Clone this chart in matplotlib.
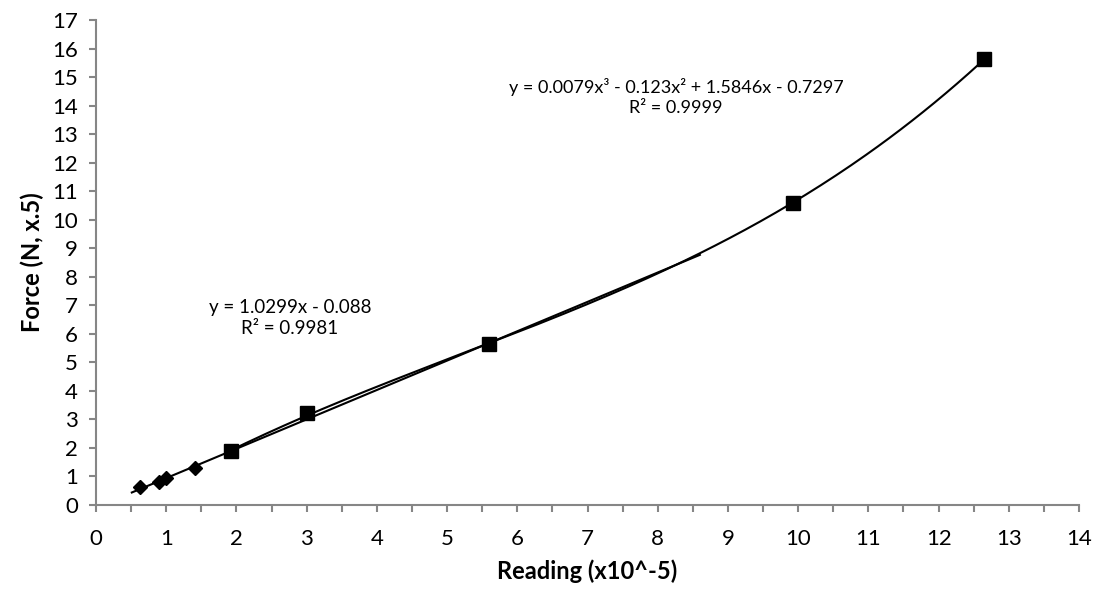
import numpy as np
import matplotlib
matplotlib.use("Agg")
import matplotlib.pyplot as plt
from matplotlib.ticker import MultipleLocator

plt.rcParams['font.family'] = ['Lato', 'DejaVu Sans']

# diamond series (small readings)
x_small = [0.62, 0.89, 0.99, 1.41]
y_small = [0.64, 0.82, 0.96, 1.29]

# square series
x_big = [1.92, 3.00, 5.60, 9.93, 12.64]
y_big = [1.90, 3.21, 5.64, 10.60, 15.63]

# trendline coefficients shown on the chart
lin_coef = [1.0299, -0.088]
poly_coef = [0.0079, -0.123, 1.5846, -0.7297]
lin_range = [0.51, 8.60]

fig = plt.figure(figsize=(10.96, 5.92), dpi=100)
ax = fig.add_axes([0.0876, 0.147, 0.8969, 0.819])

xl = np.linspace(lin_range[0], lin_range[1], 50)
ax.plot(xl, np.polyval(lin_coef, xl), color='black', lw=1.5, zorder=2)
xp = np.linspace(x_big[0], x_big[-1], 200)
ax.plot(xp, np.polyval(poly_coef, xp), color='black', lw=1.5, zorder=2)

ax.plot(x_small, y_small, 'D', color='black', markersize=7, zorder=3, clip_on=False)
ax.plot(x_big, y_big, 's', color='black', markersize=9.5, zorder=3, clip_on=False)

ax.set_xlim(0, 14)
ax.set_ylim(0, 17)
ax.xaxis.set_major_locator(MultipleLocator(1))
ax.xaxis.set_minor_locator(MultipleLocator(0.5))
ax.yaxis.set_major_locator(MultipleLocator(1))

gray = '#868686'
for s in ['top', 'right']:
    ax.spines[s].set_visible(False)
for s in ['left', 'bottom']:
    ax.spines[s].set_color(gray)
    ax.spines[s].set_linewidth(1.5)
ax.tick_params(which='both', direction='out', length=5, width=1.5, color=gray,
               labelsize=16, labelcolor='black')
ax.tick_params(axis='x', pad=12)
ax.tick_params(axis='y', pad=8)

ax.set_xlabel('Reading (x10^-5)', fontsize=17, fontweight='bold', labelpad=8)
ax.set_ylabel('Force (N, x.5)', fontsize=17, fontweight='bold', labelpad=6)

ax.text(2.76, 6.55, 'y = 1.0299x - 0.088\nR² = 0.9981', ha='center', va='center',
        fontsize=13.5, linespacing=1.3)
ax.text(8.26, 14.32, 'y = 0.0079x³ - 0.123x² + 1.5846x - 0.7297\nR² = 0.9999',
        ha='center', va='center', fontsize=13, linespacing=1.3)

fig.savefig('out.png', dpi=100)
